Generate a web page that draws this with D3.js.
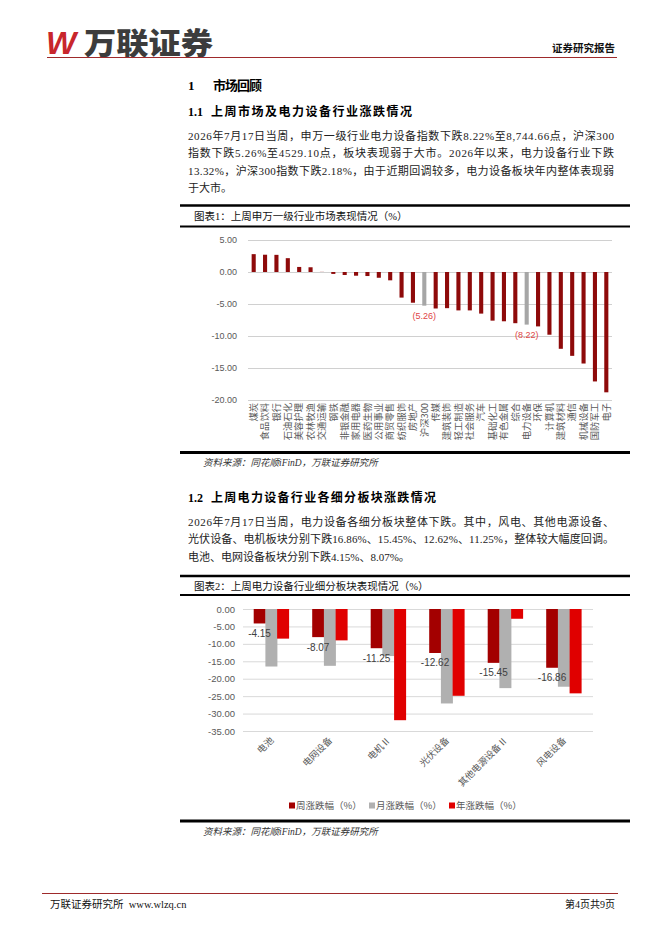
<!DOCTYPE html>
<html><head><meta charset="utf-8">
<script src="https://cdn.jsdelivr.net/npm/d3@7/dist/d3.min.js"></script>
<style>
html,body{margin:0;padding:0;background:#fff;}
svg{display:block;}
.cjk{font-family:"Liberation Serif","Noto Sans CJK SC",serif;}
.sans{font-family:"Noto Sans CJK SC","Noto Sans",sans-serif;}
</style></head>
<body>
<svg id="page" width="662" height="936"></svg>
<script>
// ---------- data ----------
const cats1 = ["煤炭","食品饮料","银行","石油石化","美容护理","农林牧渔","交通运输","钢铁","非银金融","家用电器","医药生物","公用事业","商贸零售","纺织服饰","房地产","沪深300","传媒","建筑装饰","轻工制造","社会服务","汽车","基础化工","有色金属","综合","电力设备","环保","计算机","建筑材料","通信","机械设备","国防军工","电子"];
const vals1 = [2.79,2.70,2.68,2.16,0.79,0.74,0.02,-0.30,-0.47,-0.58,-0.63,-0.90,-1.30,-4.00,-4.80,-5.26,-5.70,-5.65,-6.00,-6.00,-6.50,-7.60,-7.70,-8.00,-8.22,-8.50,-9.80,-12.00,-13.10,-14.30,-17.10,-18.80];
const highlight1 = ["沪深300","电力设备"];
const yTicks1 = [5,0,-5,-10,-15,-20];

const cats2 = ["电池","电网设备","电机Ⅱ","光伏设备","其他电源设备Ⅱ","风电设备"];
const weekly = [-4.15,-8.07,-11.25,-12.62,-15.45,-16.86];
const monthly = [-16.5,-16.3,-13.5,-27.1,-22.7,-22.3];
const yearly = [-8.5,-9.0,-31.9,-24.9,-2.8,-24.2];
const seriesNames = ["周涨跌幅（%）","月涨跌幅（%）","年涨跌幅（%）"];
const yTicks2 = [0,-5,-10,-15,-20,-25,-30,-35];

const para1 = [
 "2026年7月17日当周，申万一级行业电力设备指数下跌8.22%至8,744.66点，沪深300",
 "指数下跌5.26%至4529.10点，板块表现弱于大市。2026年以来，电力设备行业下跌",
 "13.32%，沪深300指数下跌2.18%，由于近期回调较多，电力设备板块年内整体表现弱",
 "于大市。"];
const para2 = [
 "2026年7月17日当周，电力设备各细分板块整体下跌。其中，风电、其他电源设备、",
 "光伏设备、电机板块分别下跌16.86%、15.45%、12.62%、11.25%，整体较大幅度回调。",
 "电池、电网设备板块分别下跌4.15%、8.07%。"];

// ---------- page ----------
const svg = d3.select("#page");
const C_DARK = "#8E0A0A", C_GRAY = "#A6A6A6";
const C2 = ["#A30000","#B0B0B0","#E00000"];
const AX = "#595959";

// header
svg.append("text").attr("x",46).attr("y",54).attr("fill","#C8262C")
  .style("font-family","Liberation Sans").style("font-weight","bold").style("font-style","italic")
  .style("font-size","32px").text("W");
svg.append("text").attr("x",84).attr("y",54).attr("fill","#3C3C3C").attr("class","sans")
  .style("font-weight","900").style("font-size","30px")
  .attr("textLength",129).attr("lengthAdjust","spacingAndGlyphs").text("万联证券");
svg.append("text").attr("x",615).attr("y",52).attr("text-anchor","end").attr("class","sans")
  .style("font-weight","bold").style("font-size","10.5px").attr("fill","#111").text("证券研究报告");
svg.append("line").attr("x1",47).attr("x2",617).attr("y1",57.5).attr("y2",57.5)
  .attr("stroke","#9E2A2B").attr("stroke-width",1);

// headings
function heading(num, txt, y, size, x2, len){
  svg.append("text").attr("x",188).attr("y",y).attr("class","cjk")
    .style("font-weight","bold").style("font-size",size+"px").attr("fill","#000").text(num);
  svg.append("text").attr("x",x2).attr("y",y).attr("class","sans")
    .style("font-weight","bold").style("font-size",size+"px").attr("fill","#000")
    .attr("textLength",len).attr("lengthAdjust","spacing").text(txt);
}
heading("1","市场回顾",90,13,213,49);
heading("1.1","上周市场及电力设备行业涨跌情况",115.5,12,211,201);
heading("1.2","上周电力设备行业各细分板块涨跌情况",501.5,12,211,225);

function para(lines, y0, dy){
  lines.forEach((t,i)=>{
    const tx = svg.append("text").attr("x",188).attr("y",y0+i*dy).attr("class","cjk")
      .style("font-size","11px").attr("fill","#222").text(t);
    if(i < lines.length-1 || t.length>30) tx.attr("textLength",426).attr("lengthAdjust","spacing");
  });
}
para(para1,140,17.4);
para(para2,526,17.4);

// chart frames
function frame(yTop, yMid, yBot, title, srcY){
  svg.append("line").attr("x1",180).attr("x2",630).attr("y1",yTop).attr("y2",yTop).attr("stroke","#000").attr("stroke-width",2.6);
  svg.append("text").attr("x",194).attr("y",yTop+14).attr("class","cjk").style("font-size","10.5px").attr("fill","#111").text(title);
  svg.append("line").attr("x1",180).attr("x2",630).attr("y1",yMid).attr("y2",yMid).attr("stroke","#000").attr("stroke-width",1.8);
  svg.append("line").attr("x1",180).attr("x2",630).attr("y1",yBot).attr("y2",yBot).attr("stroke","#000").attr("stroke-width",2.8);
  svg.append("text").attr("x",203).attr("y",srcY).attr("class","cjk").style("font-size","9.5px")
    .style("font-style","italic").attr("fill","#333").text("资料来源：同花顺iFinD，万联证券研究所");
}
frame(205.5,226.5,452.5,"图表1：上周申万一级行业市场表现情况（%）",466);
frame(576,595,821,"图表2：上周电力设备行业细分板块表现情况（%）",835);

// ---------- chart 1 ----------
const x1 = d3.scaleBand().domain(cats1).range([248,612]).paddingInner(0.64).paddingOuter(0.32);
const y1 = d3.scaleLinear().domain([-20,5]).range([400,240]);
const g1 = svg.append("g");
const ax1 = g1.append("g").attr("transform","translate(248,0)")
  .call(d3.axisLeft(y1).tickValues(yTicks1).tickSize(-(612-248)).tickPadding(11).tickFormat(d=>d.toFixed(2)));
ax1.select(".domain").remove();
ax1.selectAll(".tick line").attr("stroke","#D0D0D0").attr("stroke-width",1);
ax1.selectAll(".tick text").attr("fill",AX).style("font-family","Liberation Sans,Noto Sans").style("font-size","9px");

g1.selectAll("rect.b").data(cats1).join("rect").attr("class","b")
  .attr("x",d=>x1(d)).attr("width",x1.bandwidth())
  .attr("y",(d,i)=>y1(Math.max(0,vals1[i]))).attr("height",(d,i)=>Math.abs(y1(vals1[i])-y1(0)))
  .attr("fill",d=>highlight1.includes(d)?C_GRAY:C_DARK);

g1.selectAll("text.dl").data(cats1.filter(d=>highlight1.includes(d))).join("text").attr("class","dl")
  .attr("x",d=>x1(d)+x1.bandwidth()/2).attr("y",d=>y1(vals1[cats1.indexOf(d)])+13)
  .attr("text-anchor","middle").attr("fill","#E04545").style("font-family","Liberation Sans")
  .style("font-size","9px").text(d=>"("+Math.abs(vals1[cats1.indexOf(d)]).toFixed(2)+")");

g1.selectAll("text.xl").data(cats1).join("text").attr("class","xl sans")
  .attr("transform",d=>`translate(${x1(d)+x1.bandwidth()/2+3.3},403) rotate(-90)`)
  .attr("text-anchor","end").attr("fill",AX).style("font-size","9.3px").text(d=>d);

// ---------- chart 2 ----------
const x2 = d3.scaleBand().domain(cats2).range([242,593]).paddingInner(0.4).paddingOuter(0.2);
const xs = d3.scaleBand().domain([0,1,2]).range([0,x2.bandwidth()]);
const y2 = d3.scaleLinear().domain([-35,0]).range([731,609]);
const g2 = svg.append("g");
const ax2 = g2.append("g").attr("transform","translate(243,0)")
  .call(d3.axisLeft(y2).tickValues(yTicks2).tickSize(-(593-243)).tickPadding(8).tickFormat(d=>d.toFixed(2)));
ax2.select(".domain").remove();
ax2.selectAll(".tick line").attr("stroke","#D9D9D9").attr("stroke-width",1);
ax2.selectAll(".tick text").attr("fill",AX).style("font-family","Liberation Sans,Noto Sans").style("font-size","9.5px");

const series = [weekly, monthly, yearly];
series.forEach((arr,si)=>{
  g2.selectAll("rect.s"+si).data(cats2).join("rect").attr("class","s"+si)
    .attr("x",d=>x2(d)+xs(si)).attr("width",xs.bandwidth()+0.3)
    .attr("y",y2(0)).attr("height",(d,i)=>y2(arr[i])-y2(0)).attr("fill",C2[si]);
});
g2.selectAll("text.dl2").data(cats2).join("text").attr("class","dl2")
  .attr("x",d=>x2(d)+xs(0)+xs.bandwidth()/2).attr("y",(d,i)=>y2(weekly[i])+13.5)
  .attr("text-anchor","middle").attr("fill","#404040").style("font-family","Liberation Sans")
  .style("font-size","10px").text((d,i)=>weekly[i].toFixed(2));

g2.selectAll("text.xl2").data(cats2).join("text").attr("class","xl2 sans")
  .attr("transform",d=>`translate(${x2(d)+x2.bandwidth()/2+3},741) rotate(-45)`)
  .attr("text-anchor","end").attr("fill",AX).style("font-size","9.3px").text(d=>d);

// legend
const legX = [289,369,449];
seriesNames.forEach((n,i)=>{
  svg.append("rect").attr("x",legX[i]).attr("y",802.5).attr("width",6).attr("height",6).attr("fill",C2[i]);
  svg.append("text").attr("x",legX[i]+7).attr("y",809).attr("class","sans").attr("fill",AX)
    .style("font-size","9.5px").text(n);
});

// footer
svg.append("line").attr("x1",42).attr("x2",618).attr("y1",893.5).attr("y2",893.5).attr("stroke","#9E2A2B").attr("stroke-width",1);
svg.append("text").attr("x",50).attr("y",908).attr("class","cjk").style("font-size","10.5px").attr("fill","#111")
  .text("万联证券研究所  www.wlzq.cn").attr("xml:space","preserve");
svg.append("text").attr("x",615).attr("y",908).attr("text-anchor","end").attr("class","cjk").style("font-size","10px").attr("fill","#111").text("第4页共9页");
</script>
</body></html>
